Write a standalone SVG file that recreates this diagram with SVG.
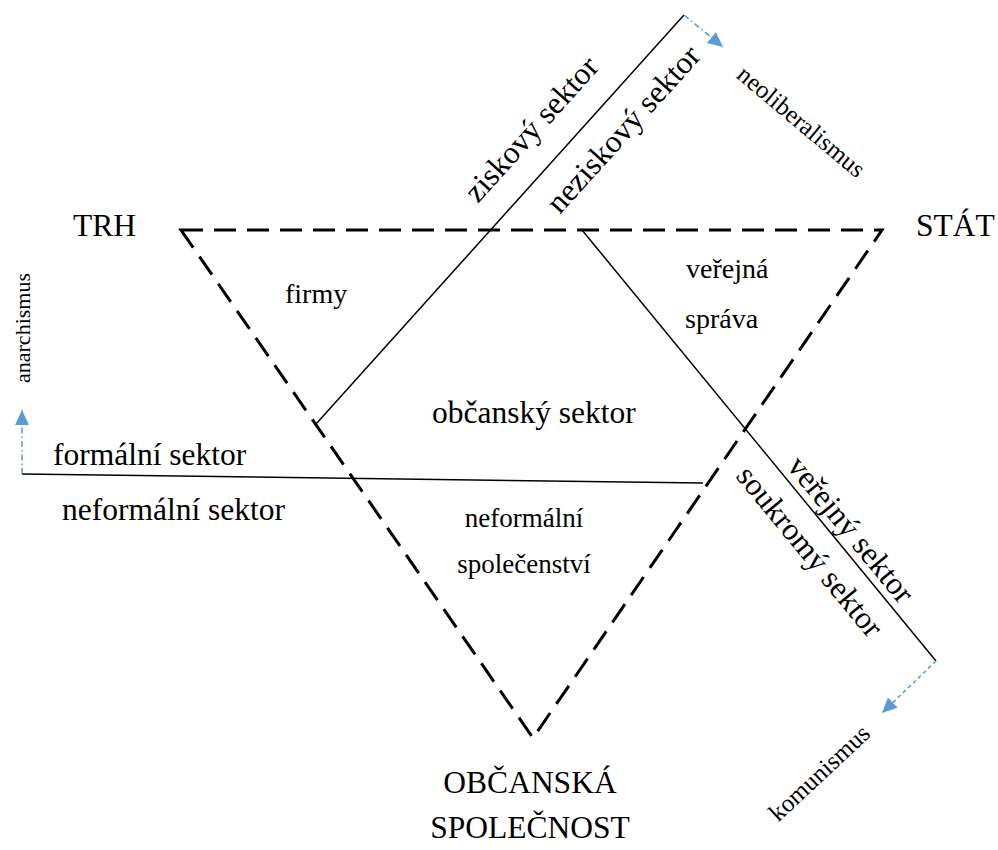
<svg xmlns="http://www.w3.org/2000/svg" width="998" height="850" viewBox="0 0 998 850">
<style>
text{font-family:"Liberation Serif","Times New Roman",serif;fill:#000}
.big{font-size:31.5px}
.mid{font-size:28px}
.sm{font-size:27px}
.rot{font-size:25px}
.tri{fill:none;stroke:#000;stroke-width:3;stroke-dasharray:22 11}
.ln{fill:none;stroke:#000;stroke-width:1.5}
.arr{fill:none;stroke:#5B9BD5;stroke-width:1.5}
</style>
<defs>
<marker id="ah" markerUnits="userSpaceOnUse" markerWidth="16" markerHeight="14" refX="15" refY="7" orient="auto">
<path d="M0,0 L15,7 L0,14 z" fill="#5B9BD5"/>
</marker>
</defs>
<rect width="998" height="850" fill="#fff"/>
<g id="triangle">
<path class="tri" d="M181,230 L882,230 L533,738 Z"/>
</g>
<g id="connectors">
<line class="ln" x1="316" y1="424" x2="684" y2="15"/>
<line class="ln" x1="582" y1="230" x2="936" y2="661"/>
<line class="ln" x1="22" y1="474" x2="703" y2="483"/>
<line class="arr" x1="684" y1="15" x2="723" y2="47" stroke-dasharray="6 3 1.5 3" marker-end="url(#ah)"/>
<line class="arr" x1="936" y1="661" x2="882" y2="713" stroke-dasharray="4 3" marker-end="url(#ah)"/>
<line class="arr" x1="22" y1="474" x2="22" y2="410" stroke-dasharray="6 3 1.5 3" marker-end="url(#ah)"/>
</g>
<g id="n-trh"><text class="big" x="73" y="236">TRH</text></g>
<g id="n-stat"><text class="big" x="916" y="236">STÁT</text></g>
<g id="n-obcanska"><text class="big" x="530" y="793" text-anchor="middle">OBČANSKÁ</text><text class="big" x="530" y="838" text-anchor="middle">SPOLEČNOST</text></g>
<g id="n-firmy"><text class="mid" x="285" y="303">firmy</text></g>
<g id="n-verejna"><text class="mid" x="686" y="278">veřejná</text><text class="mid" x="685" y="328">správa</text></g>
<g id="n-obcansky"><text class="big" x="432" y="423">občanský sektor</text></g>
<g id="n-neformalni-spol"><text class="sm" x="524" y="527" text-anchor="middle">neformální</text><text class="sm" x="524" y="573" text-anchor="middle">společenství</text></g>
<g id="n-formalni"><text class="big" x="53" y="465">formální sektor</text></g>
<g id="n-neformalni"><text class="big" x="62" y="520">neformální sektor</text></g>
<g id="n-ziskovy"><text class="big" text-anchor="middle" transform="translate(539,136) rotate(-48)">ziskový sektor</text></g>
<g id="n-neziskovy"><text class="big" text-anchor="middle" transform="translate(631,136) rotate(-48)">neziskový sektor</text></g>
<g id="n-verejny"><text class="big" text-anchor="middle" transform="translate(843,536) rotate(50.6)">veřejný sektor</text></g>
<g id="n-soukromy"><text class="big" text-anchor="middle" transform="translate(802,558) rotate(50.6)">soukromý sektor</text></g>
<g id="n-neoliberalismus"><text class="rot" text-anchor="middle" transform="translate(796,128) rotate(40)">neoliberalismus</text></g>
<g id="n-komunismus"><text class="rot" text-anchor="middle" transform="translate(825,779) rotate(-43)">komunismus</text></g>
<g id="n-anarchismus"><text style="font-size:22px" text-anchor="middle" transform="translate(30,328) rotate(-90)">anarchismus</text></g>
</svg>
